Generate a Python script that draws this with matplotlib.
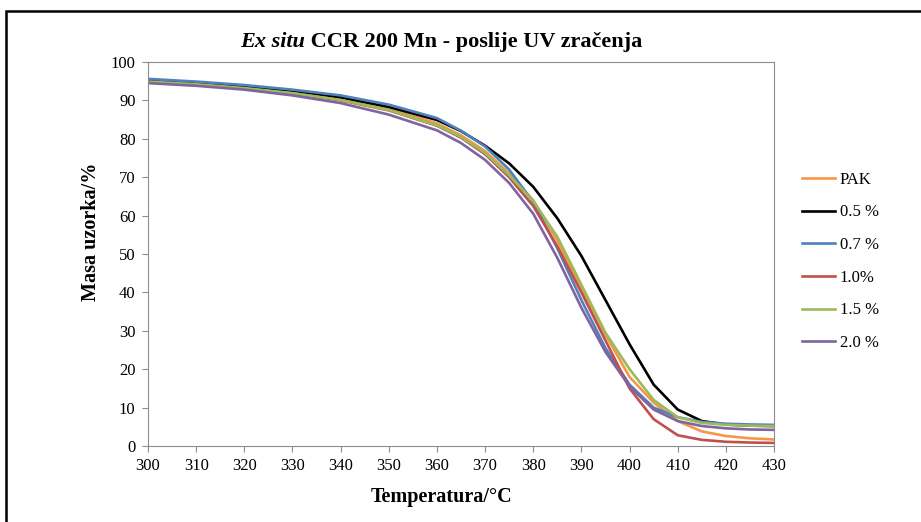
import matplotlib.pyplot as plt
from matplotlib.patches import Rectangle

plt.rcParams['font.family'] = ['Liberation Serif', 'DejaVu Serif']

# podaci ocitani sa slike
temp = [300, 310, 320, 330, 340, 350, 360, 365, 370, 375, 380, 385, 390, 395,
        400, 405, 410, 415, 420, 425, 430]
pak = [95.0, 94.3, 93.4, 92.1, 90.4, 87.9, 84.0, 80.9, 76.8, 71.0, 64.0, 53.5,
       41.0, 29.0, 18.0, 11.3, 6.5, 3.8, 2.6, 2.0, 1.7]
p05 = [95.2, 94.6, 93.7, 92.5, 90.8, 88.3, 84.9, 82.0, 78.2, 73.6, 67.5, 59.3,
       49.5, 38.0, 26.5, 16.0, 9.5, 6.5, 5.6, 5.3, 5.2]
p07 = [95.6, 94.9, 94.0, 92.8, 91.3, 88.9, 85.4, 82.1, 78.0, 72.0, 63.5, 51.5,
       38.0, 25.5, 16.0, 10.0, 7.5, 6.3, 5.8, 5.6, 5.5]
p10 = [94.7, 94.1, 93.1, 91.8, 90.0, 87.4, 83.4, 80.3, 76.0, 70.0, 62.5, 52.0,
       40.0, 27.5, 15.0, 7.0, 2.8, 1.6, 1.1, 0.9, 0.8]
p15 = [94.9, 94.2, 93.2, 91.9, 90.1, 87.5, 83.5, 80.5, 76.3, 70.5, 63.8, 54.5,
       42.0, 29.5, 20.0, 12.0, 7.5, 6.0, 5.5, 5.3, 5.2]
p20 = [94.5, 93.8, 92.8, 91.3, 89.3, 86.3, 82.2, 78.9, 74.5, 68.5, 60.5, 49.0,
       36.0, 24.5, 15.5, 9.5, 6.5, 5.2, 4.6, 4.3, 4.2]

labels = ['PAK', '0.5 %', '0.7 %', '1.0%', '1.5 %', '2.0 %']
colors = ['#F79646', '#000000', '#4F81BD', '#C0504D', '#9BBB59', '#8064A2']
series = [pak, p05, p07, p10, p15, p20]

fig = plt.figure(figsize=(9.21, 5.22), dpi=100)
ax = fig.add_axes([148/921, 1-446/522, 626/921, 384/522])

for s, lab, c in zip(series, labels, colors):
    ax.plot(temp, s, color=c, lw=1.9, label=lab)

ax.set_xlim(300, 430)
ax.set_ylim(0, 100)
ax.set_xticks(range(300, 431, 10))
ax.set_yticks(range(0, 101, 10))
for sp in ax.spines.values():
    sp.set_color('#8c8c8c')
ax.tick_params(direction='out', length=4, color='#8c8c8c', labelsize=12, pad=5)

ax.set_xlabel('Temperatura/°C', fontsize=14.5, fontweight='bold')
ax.xaxis.set_label_coords((442-148)/626, -41/384)
ax.set_ylabel('Masa uzorka/%', fontsize=14.5, fontweight='bold')
ax.yaxis.set_label_coords(-47/626, (446-232)/384)

# legenda desno od grafa
ax.legend(loc='center left', bbox_to_anchor=(1.021, (446-261.5)/384), frameon=False,
          fontsize=12, handlelength=2.0, labelspacing=1.0, handletextpad=0.25)

# naslov: dio kurzivom
fig.canvas.draw()
r = fig.canvas.get_renderer()
t1 = fig.text(0, 1-42/522, 'Ex situ', fontsize=16, fontweight='bold', style='italic', va='center')
t2 = fig.text(0, 1-42/522, ' CCR 200 Mn - poslije UV zračenja', fontsize=16, fontweight='bold', va='center')
w1 = t1.get_window_extent(r).width
w2 = t2.get_window_extent(r).width
x0 = 441 - (w1 + w2) / 2
t1.set_x(x0 / 921)
t2.set_x((x0 + w1) / 921)

# okvir oko slike
fig.patches.append(Rectangle((6/921, -0.05), 1.1, 1-11/522+0.05, transform=fig.transFigure,
                             fill=False, edgecolor='black', lw=1.8))

fig.savefig('out.png', dpi=100)
